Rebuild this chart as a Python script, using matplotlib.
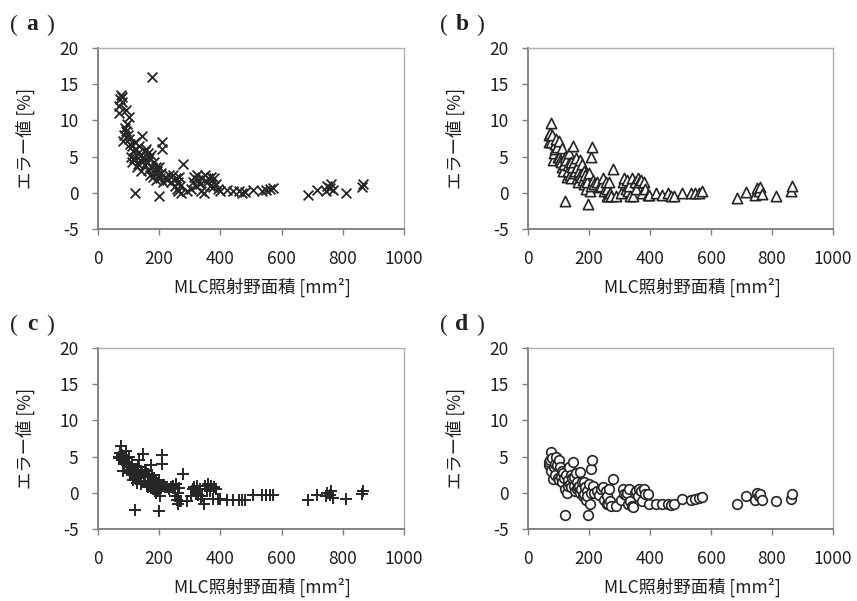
import matplotlib
matplotlib.use("Agg")
import matplotlib.pyplot as plt

# MLC field area [mm2], shared by all four panels
area = [68, 70, 72, 75, 77, 80, 82, 85, 88, 90, 92, 95, 98, 100, 102, 105, 108, 110,
        112, 115, 118, 120, 122, 125, 128, 130, 132, 135, 138, 140, 142, 145, 148, 150,
        152, 155, 158, 160, 162, 165, 168, 170, 172, 175, 178, 180, 182, 185, 188, 190,
        192, 195, 198, 200, 202, 205, 208, 210, 212, 218, 225, 232, 240, 245, 250, 255,
        258, 260, 262, 265, 268, 272, 278, 290, 305, 310, 315, 320, 325, 328, 332, 335,
        340, 345, 350, 355, 360, 365, 370, 375, 380, 385, 392, 398, 420, 440, 460, 470,
        480, 505, 535, 548, 562, 572, 685, 715, 745, 750, 757, 762, 768, 812, 862, 866]

err_a = [11.0, 12.0, 13.0, 13.5, 12.5, 13.2, 7.2, 8.0, 9.0, 8.5, 11.5, 9.5, 8.0, 10.5,
         7.5, 6.8, 5.0, 6.5, 4.2, 5.8, 4.8, 7.0, 0.0, 6.0, 3.5, 5.5, 4.0, 6.5, 4.5, 5.2,
         3.0, 7.8, 5.0, 4.5, 5.8, 3.8, 6.0, 4.2, 5.5, 3.2, 4.8, 2.5, 5.2, 3.5, 16.0, 2.2,
         4.2, 2.8, 3.6, 1.8, 3.0, 2.5, -0.5, 3.5, 2.0, 2.8, 6.0, 7.0, 1.5, 2.2, 1.8, 2.5,
         1.5, 2.5, 1.0, 2.0, 0.5, 1.5, 0.2, 2.2, 1.0, 0.0, 4.0, 0.2, 0.5, 1.5, 2.2, 1.0,
         2.5, 1.8, 1.2, 0.3, 2.0, 0.0, 2.5, 1.5, 2.0, 1.0, 2.2, 0.8, 2.0, 1.2, 0.5, 0.2,
         0.4, 0.3, 0.3, 0.0, 0.1, 0.4, 0.3, 0.4, 0.5, 0.6, -0.3, 0.4, 0.2, 1.0, 0.6, 1.2,
         0.4, 0.0, 0.8, 1.2]

err_b = [7.0, 8.0, 8.3, 9.7, 7.0, 8.0, 4.5, 5.5, 6.0, 6.8, 7.5, 6.3, 5.0, 7.2, 5.0,
         4.5, 4.2, 6.2, 3.5, 3.0, 4.0, 5.0, -1.2, 4.5, 2.2, 3.8, 3.0, 5.5, 2.5, 4.2, 2.0,
         3.5, 6.5, 2.8, 4.2, 3.0, 4.8, 2.0, 3.5, 1.5, 3.0, 2.5, 4.5, 2.2, 4.0, 1.8, 3.0,
         1.2, 2.5, 0.5, 2.0, 1.5, -1.5, 2.8, 0.3, 1.0, 5.0, 6.3, 1.8, 1.2, 1.5, 0.8, 1.0,
         2.0, 0.2, 1.5, -0.5, 0.5, -0.5, 1.5, 0.0, -0.5, 3.3, -0.5, 0.0, 1.5, 2.0, 0.5,
         1.8, 0.2, 1.0, -0.5, 2.0, -0.5, 1.5, 0.5, 2.0, 1.5, 1.8, 0.0, 1.5, 0.5, -0.3,
         -0.3, 0.0, -0.3, 0.0, -0.5, -0.5, 0.0, 0.0, 0.0, 0.0, 0.3, -0.7, 0.1, -0.3, 0.7,
         0.2, 0.8, -0.2, -0.4, 0.3, 1.0]

err_c = [4.8, 5.0, 5.5, 6.5, 4.5, 5.2, 3.0, 4.0, 4.2, 5.8, 4.8, 4.0, 3.5, 5.0, 3.2,
         2.8, 3.6, 4.0, 2.5, 1.8, 3.0, 2.2, -2.4, 3.2, 1.3, 2.7, 3.5, 4.5, 2.0, 3.0, 1.2,
         2.8, 5.3, 1.6, 3.2, 2.5, 3.0, 1.0, 2.6, 0.8, 2.2, 1.5, 3.8, 1.2, 2.5, 0.5, 2.0,
         0.2, 1.5, 0.0, 1.0, 0.5, -2.5, 1.8, -0.5, 0.6, 4.0, 5.2, 1.0, 0.8, 0.8, 0.5, 0.8,
         1.0, -0.5, 1.2, -1.0, 0.0, -1.5, 0.6, -1.2, -1.2, 2.6, -1.2, -0.5, 0.5, 0.8, 0.0,
         1.0, -0.3, 0.5, -0.8, -0.5, -1.5, 1.0, 0.5, 1.2, 0.2, 1.0, -0.8, 0.8, 0.5, -0.8,
         -0.8, -1.0, -1.0, -1.0, -1.0, -1.0, -0.3, -0.3, -0.3, -0.3, -0.3, -1.0, -0.3,
         -0.5, 0.0, -0.3, 0.2, -0.7, -0.8, -0.2, 0.3]

err_d = [3.8, 4.2, 4.5, 5.6, 3.0, 4.8, 1.9, 3.5, 2.5, 4.0, 5.0, 3.8, 2.0, 4.5, 1.8,
         3.5, 2.2, 3.0, 1.5, 2.8, 2.0, 0.5, -3.1, 2.5, 0.0, 1.8, 1.0, 3.5, 1.2, 2.5, 0.8,
         2.0, 4.3, 1.0, 2.2, 0.2, 2.8, 0.5, 1.5, 0.8, 1.0, 0.0, 2.9, 0.5, 1.5, -0.5, 1.5,
         -0.2, 0.8, -1.0, 0.3, -0.5, -3.0, 1.2, -1.5, 0.0, 3.3, 4.5, 1.0, 0.0, 0.3, -0.3,
         0.5, 0.8, -1.0, 0.2, -1.5, -0.5, -1.6, 0.5, -1.2, -1.8, 1.9, -1.8, -1.0, 0.5,
         -0.2, -0.3, 0.0, -1.5, 0.5, -1.2, -1.8, -2.0, 0.0, 0.3, -0.5, 0.5, 0.3, -1.2,
         0.5, -0.2, -0.2, -1.5, -1.5, -1.5, -1.6, -1.7, -1.5, -0.8, -1.0, -0.8, -0.7, -0.6,
         -1.6, -0.5, -1.0, 0.0, -0.5, -0.1, -1.0, -1.2, -0.8, -0.1]

panel_letters = ["a", "b", "c", "d"]
x_ticks = [0, 200, 400, 600, 800, 1000]
y_ticks = [-5, 0, 5, 10, 15, 20]

plt.rcParams['font.family'] = ['Noto Sans CJK JP', 'DejaVu Sans']
plt.rcParams['axes.unicode_minus'] = False

W, H = 857, 601
fig = plt.figure(figsize=(W / 100, H / 100), dpi=100)

# pixel boxes (left, top, right, bottom) of the plot areas
boxes = [(98, 48, 404, 229), (528, 48, 833, 229),
         (98, 348, 404, 529), (528, 348, 833, 529)]
series = [
    (err_a, dict(marker='x', s=50, color='#262626', linewidths=1.3)),
    (err_b, dict(marker='^', s=55, facecolors='white', edgecolors='#262626', linewidths=1.2)),
    (err_c, dict(marker='+', s=65, color='#262626', linewidths=1.4)),
    (err_d, dict(marker='o', s=48, facecolors='white', edgecolors='#262626', linewidths=1.2)),
]
TXT = '#1e1e1e'

for (l, t, r, b), (yvals, style), letter in zip(boxes, series, panel_letters):
    ax = fig.add_axes([l / W, 1 - b / H, (r - l) / W, (b - t) / H])
    ax.scatter(area, yvals, zorder=3, **style)
    ax.set_xlim(0, 1000)
    ax.set_ylim(-5, 20)
    ax.set_xticks(x_ticks)
    ax.set_yticks(y_ticks)
    ax.tick_params(direction='out', length=4, width=1, color='#808080',
                   labelsize=12.5, labelcolor=TXT)
    ax.tick_params(axis='x', pad=11)
    ax.tick_params(axis='y', pad=10)
    for side in ['left', 'bottom']:
        ax.spines[side].set_color('#7a7a7a')
        ax.spines[side].set_linewidth(1.3)
    for side in ['top', 'right']:
        ax.spines[side].set_color('#b0b0b0')
        ax.spines[side].set_linewidth(1.0)

    # axis titles placed like the spreadsheet chart
    fig.text((l - 73) / W, 1 - (t + b) / 2 / H, "エラー値 [%]", rotation=90,
             ha='center', va='center', fontsize=12.5, color=TXT)
    fig.text((l + 164) / W, 1 - (b + 58) / H, "MLC照射野面積 [mm²]",
             ha='center', va='center', fontsize=12.5, color=TXT)

    # panel label: thin parentheses around a bold serif letter
    ly = 1 - (t - 23) / H
    fig.text((l - 88) / W, ly, "(", family='Liberation Serif', ha='left', va='center',
             fontsize=17, color='#222222')
    fig.text((l - 66) / W, ly, letter, family='Liberation Serif', ha='center', va='center',
             fontsize=17, fontweight='bold', color='#222222')
    fig.text((l - 44) / W, ly, ")", family='Liberation Serif', ha='right', va='center',
             fontsize=17, color='#222222')

fig.savefig("out.png", dpi=100)
